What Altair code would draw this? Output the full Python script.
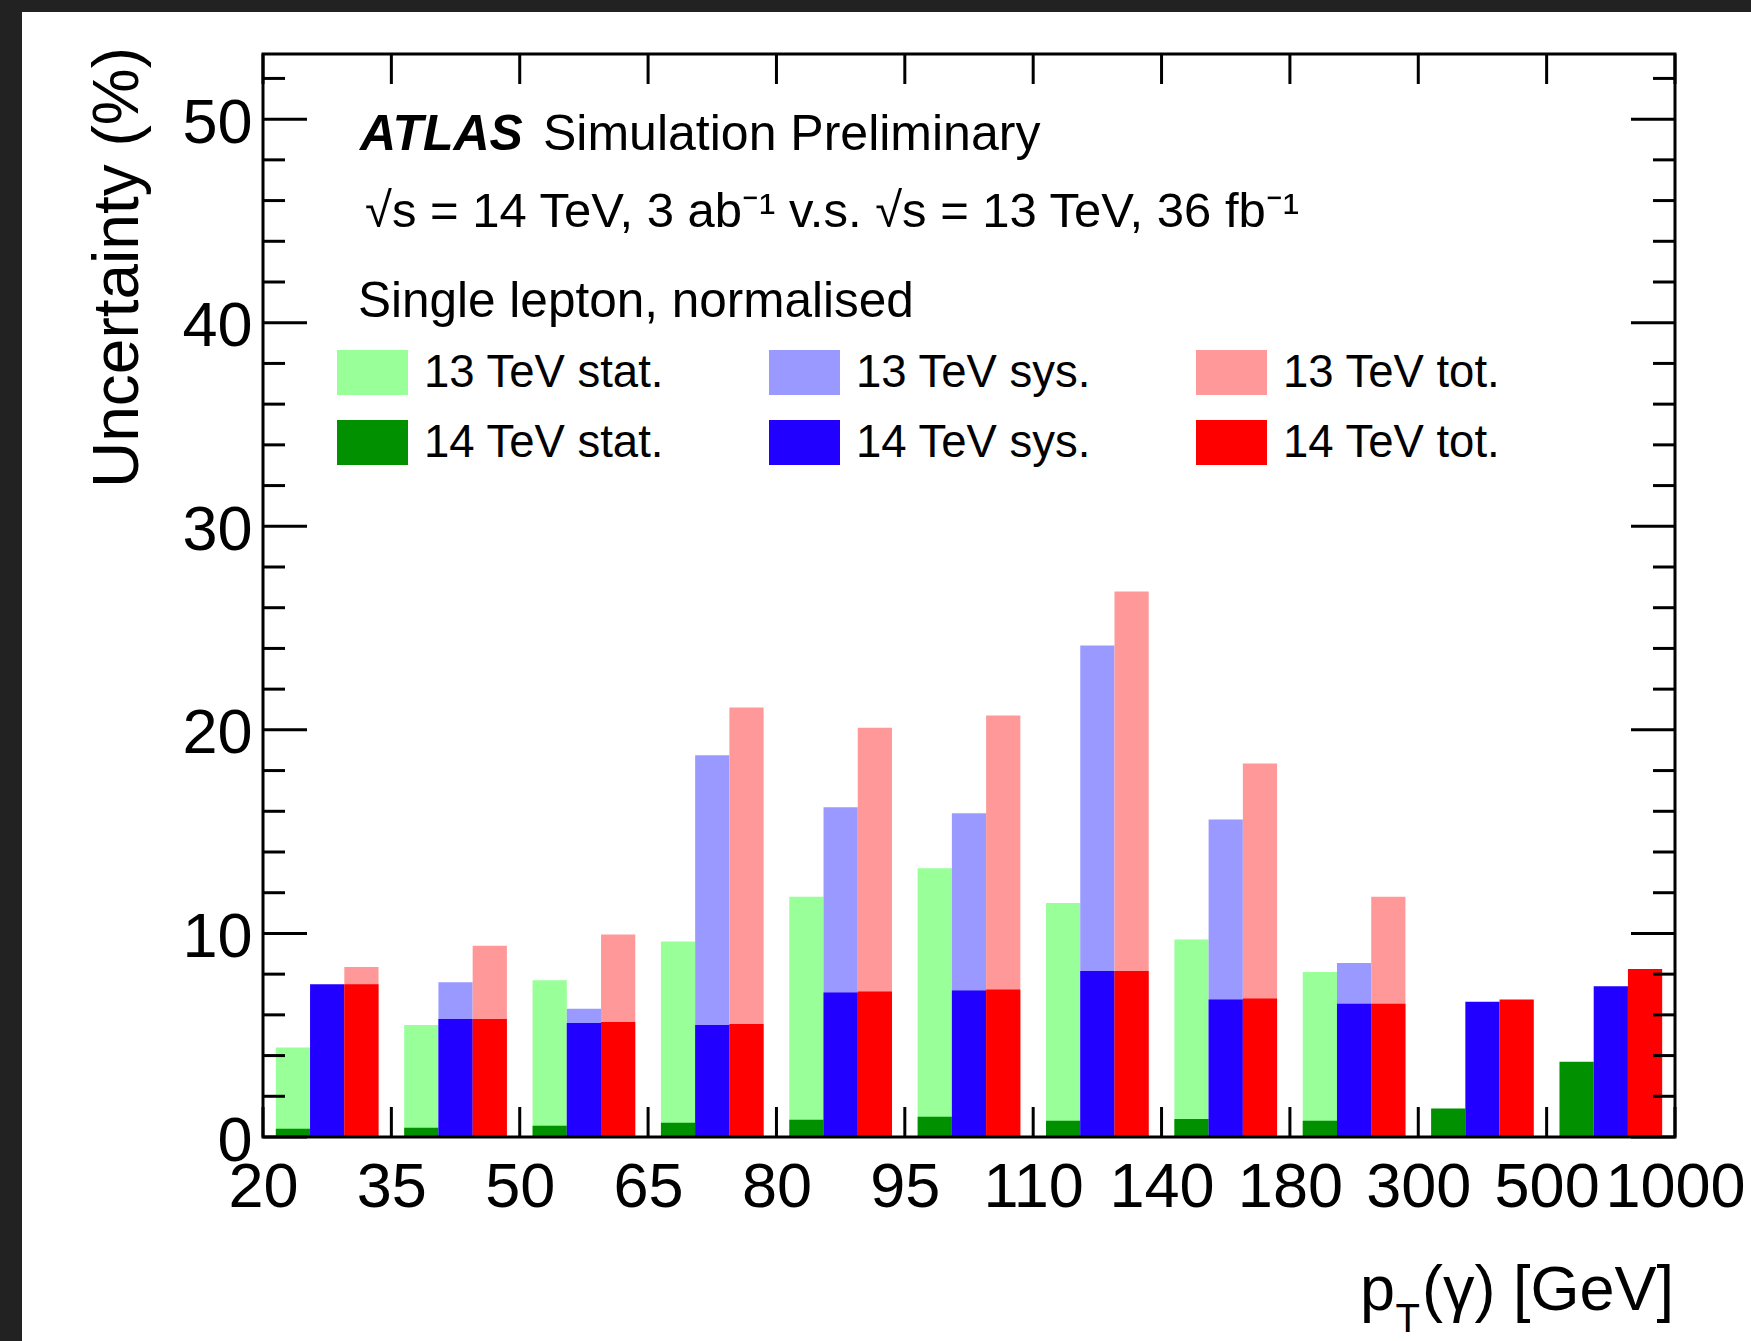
import json
import altair as alt
import pandas as pd

# ---------------- data ----------------
edge_labels = ["20", "35", "50", "65", "80", "95", "110", "140", "180", "300", "500", "1000"]

stat13 = [4.4, 5.5, 7.7, 9.6, 11.8, 13.2, 11.5, 9.7, 8.1, None, None]
sys13 = [7.1, 7.6, 6.3, 18.75, 16.2, 15.9, 24.15, 15.6, 8.55, None, None]
tot13 = [8.35, 9.4, 9.95, 21.1, 20.1, 20.7, 26.8, 18.35, 11.8, None, None]
stat14 = [0.4, 0.45, 0.55, 0.7, 0.85, 1.0, 0.8, 0.88, 0.8, 1.4, 3.7]
sys14 = [7.5, 5.8, 5.6, 5.5, 7.1, 7.2, 8.15, 6.75, 6.55, 6.65, 7.4]
tot14 = [7.5, 5.8, 5.65, 5.55, 7.15, 7.25, 8.15, 6.8, 6.55, 6.75, 8.25]

# legend is filled column by column (2 rows x 3 columns)
series_order = ["13 TeV stat.", "14 TeV stat.", "13 TeV sys.",
                "14 TeV sys.", "13 TeV tot.", "14 TeV tot."]
series_colors = ["#99ff99", "#009000", "#9999ff",
                 "#2200ff", "#ff9999", "#ff0000"]

y_major = [0, 10, 20, 30, 40, 50]
y_minor = [2, 4, 6, 8, 12, 14, 16, 18, 22, 24, 26, 28, 32, 34, 36, 38,
           42, 44, 46, 48, 52]
x_edges = list(range(len(edge_labels)))

# ---------------- layout ----------------
W, H = 1412, 1083
PAD_L, PAD_T = 263, 54
FONT = "Liberation Sans"

BAR_OFF = 0.1
BAR_W = 0.8 / 3


def build(energy, arrays):
    rows = []
    for j, (kind, arr) in enumerate(zip(["stat.", "sys.", "tot."], arrays)):
        for i, v in enumerate(arr):
            if v is None:
                continue
            rows.append({
                "series": f"{energy} TeV {kind}",
                "value": v,
                "x0": i + BAR_OFF + j * BAR_W,
                "x1": i + BAR_OFF + (j + 1) * BAR_W,
            })
    return pd.DataFrame(rows)


df13 = build("13", [stat13, sys13, tot13])
df14 = build("14", [stat14, sys14, tot14])

x_scale = alt.Scale(domain=[0, 11], nice=False, zero=False)
y_scale = alt.Scale(domain=[0, 53.2], nice=False, zero=False)

legend = alt.Legend(
    orient="none", legendX=74, legendY=283, columns=3, title=None,
    symbolType="M-1,-0.634L1,-0.634L1,0.634L-1,0.634Z", symbolSize=5041,
    symbolStrokeWidth=0, symbolOpacity=1,
    labelFontSize=45.5, labelFont=FONT, labelColor="black", labelOffset=16,
    labelLimit=600, columnPadding=104, rowPadding=11, padding=0,
)
color = alt.Color("series:N",
                  scale=alt.Scale(domain=series_order, range=series_colors),
                  legend=legend)

x_axis = alt.Axis(
    values=x_edges, labelExpr=f"{json.dumps(edge_labels)}[datum.value]",
    ticks=False, domain=False, grid=False, title=None, zindex=2,
    labelFontSize=63, labelFont=FONT, labelColor="black", labelPadding=19,
    labelOverlap=False, labelFlush=False,
)
y_axis = alt.Axis(
    values=y_major, ticks=False, domain=False, grid=False, title=None, zindex=2,
    labelFontSize=63, labelFont=FONT, labelColor="black", labelPadding=11,
    labelOffset=4, labelOverlap=False, labelFlush=False,
)


def X(field):
    return alt.X(field, scale=x_scale, axis=x_axis)


def Y(field):
    return alt.Y(field, scale=y_scale, axis=y_axis)


one = pd.DataFrame({"a": [0]})

# white page (the reference has a dark strip on top and left)
page = alt.Chart(one).mark_rect(color="white").encode(
    x=alt.value(22 - PAD_L), x2=alt.value(1760 - PAD_L),
    y=alt.value(12 - PAD_T), y2=alt.value(1350 - PAD_T),
)

bars13 = alt.Chart(df13).mark_rect().encode(
    x=X("x0:Q"), x2="x1:Q", y=Y("value:Q"), y2=alt.datum(0), color=color)
bars14 = alt.Chart(df14).mark_rect().encode(
    x=X("x0:Q"), x2="x1:Q", y=Y("value:Q"), y2=alt.datum(0), color=color)

xt = pd.DataFrame({"e": x_edges})
TICK = dict(color="black", strokeWidth=3)
xb = alt.Chart(xt).mark_rule(**TICK).encode(
    x=X("e:Q"), y=alt.value(H), y2=alt.value(H - 30))
xtop = alt.Chart(xt).mark_rule(**TICK).encode(
    x=X("e:Q"), y=alt.value(0), y2=alt.value(30))

ymaj = pd.DataFrame({"v": y_major})
ymin = pd.DataFrame({"v": y_minor})


def yticks(df, x0, x1):
    return alt.Chart(df).mark_rule(**TICK).encode(
        y=Y("v:Q"), x=alt.value(x0), x2=alt.value(x1))


ticks = [yticks(ymaj, 0, 44), yticks(ymin, 0, 22),
         yticks(ymaj, W, W - 44), yticks(ymin, W, W - 22)]

frame = alt.Chart(one).mark_rect(fill=None, stroke="black", strokeWidth=3).encode(
    x=alt.value(0), x2=alt.value(W), y=alt.value(0), y2=alt.value(H))


def txt(s, x, y, size, align="left", **kw):
    return alt.Chart(pd.DataFrame({"t": [s]})).mark_text(
        align=align, baseline="alphabetic", fontSize=size, font=FONT,
        color="black", **kw).encode(text="t:N", x=alt.value(x), y=alt.value(y))


texts = [
    txt("ATLAS", 360 - PAD_L, 150 - PAD_T, 50, fontStyle="italic", fontWeight="bold"),
    txt("Simulation Preliminary", 543 - PAD_L, 150 - PAD_T, 50),
    txt("\u221as = 14 TeV, 3 ab\u207b\u00b9 v.s. \u221as = 13 TeV, 36 fb\u207b\u00b9",
        365 - PAD_L, 227 - PAD_T, 49),
    txt("Single lepton, normalised", 358 - PAD_L, 317 - PAD_T, 49.5),
    txt("p", 1395 - PAD_L, 1310 - PAD_T, 63, align="right"),
    txt("T", 1420 - PAD_L, 1332 - PAD_T, 40, align="right"),
    txt("(\u03b3) [GeV]", 1674 - PAD_L, 1310 - PAD_T, 63, align="right"),
    txt("Uncertainty (%)", 138 - PAD_L, 47 - PAD_T, 64, align="right", angle=270),
]

chart = alt.layer(page, bars13, bars14, xb, xtop, *ticks, frame, *texts).properties(
    width=W, height=H,
    padding={"left": PAD_L, "top": PAD_T, "right": 1751 - PAD_L - W, "bottom": 1341 - PAD_T - H},
    autosize=alt.AutoSizeParams(type="none"),
).configure(background="#222222").configure_view(stroke=None)

chart.save("out.html", embed_options={"renderer": "svg", "actions": False})
